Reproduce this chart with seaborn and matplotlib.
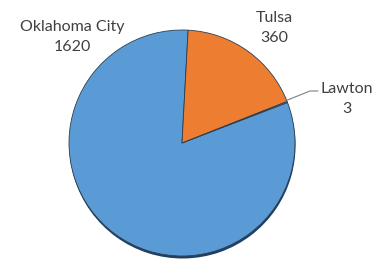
import matplotlib
matplotlib.use("Agg")
import matplotlib.pyplot as plt
import seaborn as sns

sns.set_theme(style="white")
plt.rcParams['font.family'] = ['Lato', 'DejaVu Sans']

cities = ["Oklahoma City", "Tulsa", "Lawton"]
counts = [1620, 360, 3]
colors = ["#5B9BD5", "#ED7D31", "#A5A5A5"]

fig = plt.figure(figsize=(3.72, 2.60), dpi=100)
ax = fig.add_axes([0, 0, 1, 1])

cx, cy, r = 182, 260 - 143, 113

# shadow
ax.pie(counts, colors=["#1F3F66"] * 3, startangle=21, counterclock=False,
       center=(cx + 0.5, cy - 2.5), radius=r, frame=True,
       wedgeprops=dict(linewidth=0))
wedges, _ = ax.pie(counts, colors=colors, startangle=21, counterclock=False,
                   center=(cx, cy), radius=r, frame=True,
                   wedgeprops=dict(edgecolor="#2F3F50", linewidth=0.6))
ax.set_xlim(0, 372)
ax.set_ylim(0, 260)
ax.set_aspect('equal')
ax.axis('off')

tc = "#404040"
fs = 11.5
ls = 1.5
ax.text(72, 260 - 37, f"{cities[0]}\n{counts[0]}", ha='center', va='center',
        fontsize=fs, color=tc, linespacing=ls)
ax.text(274, 260 - 28, f"{cities[1]}\n{counts[1]}", ha='center', va='center',
        fontsize=fs, color=tc, linespacing=ls)
ax.text(347, 260 - 99, f"{cities[2]}\n{counts[2]}", ha='center', va='center',
        fontsize=fs, color=tc, linespacing=ls)
ax.plot([285, 310, 318], [260 - 101, 260 - 91, 260 - 91], color="#808080", lw=0.8)

fig.savefig("out.png", dpi=100)
